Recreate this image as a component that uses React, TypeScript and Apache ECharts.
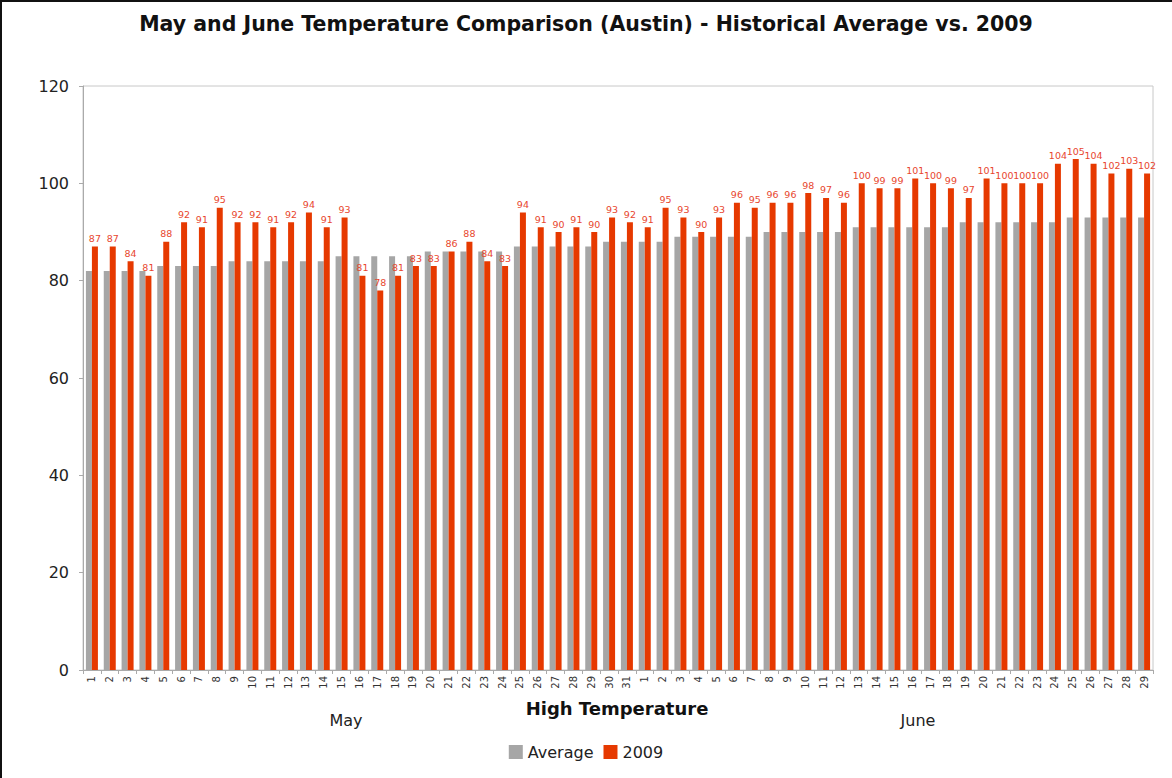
import React, { useEffect, useRef } from 'react';
import * as echarts from 'echarts';

const days: string[] = [
  '1','2','3','4','5','6','7','8','9','10','11','12','13','14','15','16','17','18','19','20','21','22','23','24','25','26','27','28','29','30','31',
  '1','2','3','4','5','6','7','8','9','10','11','12','13','14','15','16','17','18','19','20','21','22','23','24','25','26','27','28','29',
];

const averageMay: number[] = [82,82,82,82,83,83,83,83,84,84,84,84,84,84,85,85,85,85,85,86,86,86,86,86,87,87,87,87,87,88,88];
const averageJune: number[] = [88,88,89,89,89,89,89,90,90,90,90,90,91,91,91,91,91,91,92,92,92,92,92,92,93,93,93,93,93];
const y2009May: number[] = [87,87,84,81,88,92,91,95,92,92,91,92,94,91,93,81,78,81,83,83,86,88,84,83,94,91,90,91,90,93,92];
const y2009June: number[] = [91,95,93,90,93,96,95,96,96,98,97,96,100,99,99,101,100,99,97,101,100,100,100,104,105,104,102,103,102];

const yTicks = { min: 0, max: 120, interval: 20 };
const titleText = 'May and June Temperature Comparison (Austin) - Historical Average vs. 2009';
const axisTitle = 'High Temperature';
const groupLabels = ['May', 'June'];
const seriesNames = ['Average', '2009'];

export default function App() {
  const ref = useRef<HTMLDivElement>(null);
  useEffect(() => {
    document.body.style.margin = '0';
    if (!ref.current) return;
    const chart = echarts.init(ref.current, null, { renderer: 'svg' });
    const font = 'DejaVu Sans, Verdana, sans-serif';
    chart.setOption({
      animation: false,
      backgroundColor: '#ffffff',
      textStyle: { fontFamily: font },
      title: {
        text: titleText,
        left: 'center',
        top: 8,
        textStyle: { fontSize: 20.5, fontWeight: 'bold', color: '#111', fontFamily: font },
      },
      grid: { left: 83, top: 86, right: 19, bottom: 108, show: true, borderColor: '#c8c8c8', borderWidth: 1 },
      legend: {
        data: seriesNames,
        left: 'center',
        top: 739,
        icon: 'rect',
        itemWidth: 14,
        itemHeight: 14,
        itemGap: 10,
        itemStyle: { borderWidth: 0 },
        textStyle: { fontSize: 16, color: '#222', fontFamily: font },
      },
      xAxis: {
        type: 'category',
        data: days,
        axisLine: { lineStyle: { color: '#aaaaaa' } },
        axisTick: { show: true, length: 4, lineStyle: { color: '#aaaaaa' } },
        axisLabel: { rotate: 90, fontSize: 10, color: '#333', interval: 0, margin: 6, fontFamily: font },
      },
      yAxis: {
        type: 'value',
        min: yTicks.min,
        max: yTicks.max,
        interval: yTicks.interval,
        axisLine: { show: true, lineStyle: { color: '#aaaaaa' } },
        axisTick: { show: true, length: 4, lineStyle: { color: '#aaaaaa' } },
        splitLine: { show: false },
        axisLabel: { fontSize: 16, color: '#222', margin: 14, fontFamily: font },
      },
      series: [
        {
          name: seriesNames[0],
          type: 'bar',
          data: [...averageMay, ...averageJune],
          itemStyle: { color: '#a6a6a6' },
          barWidth: 6,
          barGap: '0%',
        },
        {
          name: seriesNames[1],
          type: 'bar',
          data: [...y2009May, ...y2009June],
          itemStyle: { color: '#e63900' },
          barWidth: 6,
          label: { show: true, position: 'top', distance: 3, fontSize: 9.5, color: '#e8462e', fontFamily: font },
        },
      ],
      graphic: [
        { type: 'line', shape: { x1: 0, y1: 1, x2: 1172, y2: 1 }, style: { stroke: '#111', lineWidth: 2 } },
        { type: 'line', shape: { x1: 1, y1: 0, x2: 1, y2: 778 }, style: { stroke: '#111', lineWidth: 2 } },
        {
          type: 'text', x: 617, y: 708,
          style: { text: axisTitle, fill: '#111', font: `bold 18px ${font}`, textAlign: 'center', textVerticalAlign: 'middle' },
        },
        {
          type: 'text', x: 346, y: 720,
          style: { text: groupLabels[0], fill: '#222', font: `16px ${font}`, textAlign: 'center', textVerticalAlign: 'middle' },
        },
        {
          type: 'text', x: 918, y: 720,
          style: { text: groupLabels[1], fill: '#222', font: `16px ${font}`, textAlign: 'center', textVerticalAlign: 'middle' },
        },
      ],
    });
    return () => chart.dispose();
  }, []);
  return <div ref={ref} style={{ width: 1172, height: 778 }} />;
}
